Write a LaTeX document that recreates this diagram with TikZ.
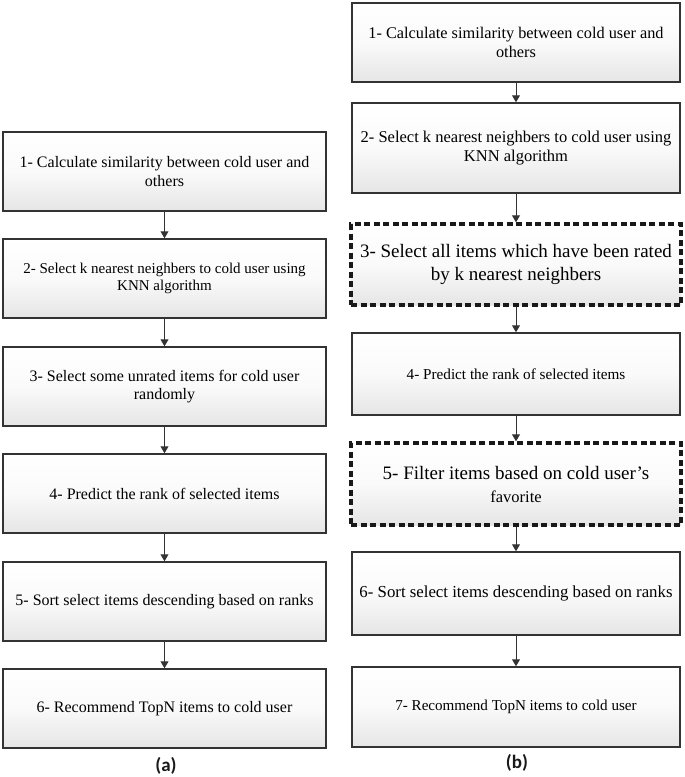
\documentclass[tikz,border=0pt]{standalone}
\usepackage{fontspec}
\setmainfont{Liberation Serif}
\newfontfamily\labfont{Carlito}
\usetikzlibrary{arrows.meta}
\newcommand\fsz[2]{\fontsize{#1}{#2}\selectfont}
\begin{document}
\begin{tikzpicture}[x=1pt,y=-1pt,
  box/.style={draw=black!80, line width=1.5pt, top color=white, bottom color=black!10,
    middle color=black!2, align=center, inner sep=0pt, text=black},
  dbox/.style={box, draw=black!90, line width=3.4pt, dash pattern=on 6pt off 3.5pt},
  arr/.style={draw=black!80, line width=1pt, -{Triangle[width=8pt,length=7pt]}},
  lab/.style={font=\labfont\bfseries\fontsize{19}{22}\selectfont, text=black!90}]
\useasboundingbox (0,0) rectangle (685,777);
% ---- column (a)
\node[box, minimum width=323pt, minimum height=79pt, font=\fsz{16}{18.5}] (a1) at (164.5,171.5)
  {1- Calculate similarity between cold user and\\others};
\node[box, minimum width=323pt, minimum height=79pt, font=\fsz{15}{17.5}] (a2) at (164.5,278.5)
  {2- Select k nearest neighbers to cold user using\\KNN algorithm};
\node[box, minimum width=323pt, minimum height=79pt, font=\fsz{16}{18.5}] (a3) at (164.5,386.5)
  {3- Select some unrated items for cold user\\randomly};
\node[box, minimum width=323pt, minimum height=79pt, font=\fsz{16}{18.5}] (a4) at (164.5,493.5)
  {4- Predict the rank of selected items};
\node[box, minimum width=323pt, minimum height=79pt, font=\fsz{16}{18.5}] (a5) at (164.5,601.5)
  {5- Sort select items descending based on ranks};
\node[box, minimum width=323pt, minimum height=79pt, font=\fsz{16}{18.5}] (a6) at (164.5,708.5)
  {6- Recommend TopN items to cold user};
\foreach \u/\v in {a1/a2,a2/a3,a3/a4,a4/a5,a5/a6}
  \draw[arr] (\u.south) -- (\v.north);
\node[lab] (la) at (166,766) {(a)};
% ---- column (b)
\node[box, minimum width=328pt, minimum height=79pt, font=\fsz{16.3}{19}] (b1) at (516,42.5)
  {1- Calculate similarity between cold user and\\others};
\node[box, minimum width=328pt, minimum height=90pt, font=\fsz{16.5}{19.5}] (b2) at (516,148)
  {2- Select k nearest neighbers to cold user using\\KNN algorithm};
\node[dbox, minimum width=330pt, minimum height=81pt, font=\fsz{19}{23}] (b3) at (516,264.5)
  {3- Select all items which have been rated\\by k nearest neighbers};
\node[box, minimum width=328pt, minimum height=82pt, font=\fsz{15.2}{18}] (b4) at (516,374)
  {4- Predict the rank of selected items};
\node[dbox, minimum width=330pt, minimum height=82pt, font=\fsz{19}{23}] (b5) at (516,484)
  {5- Filter items based on cold user’s\\{\fsz{16.5}{19}favorite}};
\node[box, minimum width=328pt, minimum height=83pt, font=\fsz{16.8}{19.5}] (b6) at (516,593.5)
  {6- Sort select items descending based on ranks};
\node[box, minimum width=328pt, minimum height=80pt, font=\fsz{15.1}{18}] (b7) at (516,707)
  {7- Recommend TopN items to cold user};
\foreach \u/\v in {b1/b2,b2/b3,b3/b4,b4/b5,b5/b6,b6/b7}
  \draw[arr] (\u.south) -- (\v.north);
\node[lab] (lb) at (517,763) {(b)};
\end{tikzpicture}
\end{document}
